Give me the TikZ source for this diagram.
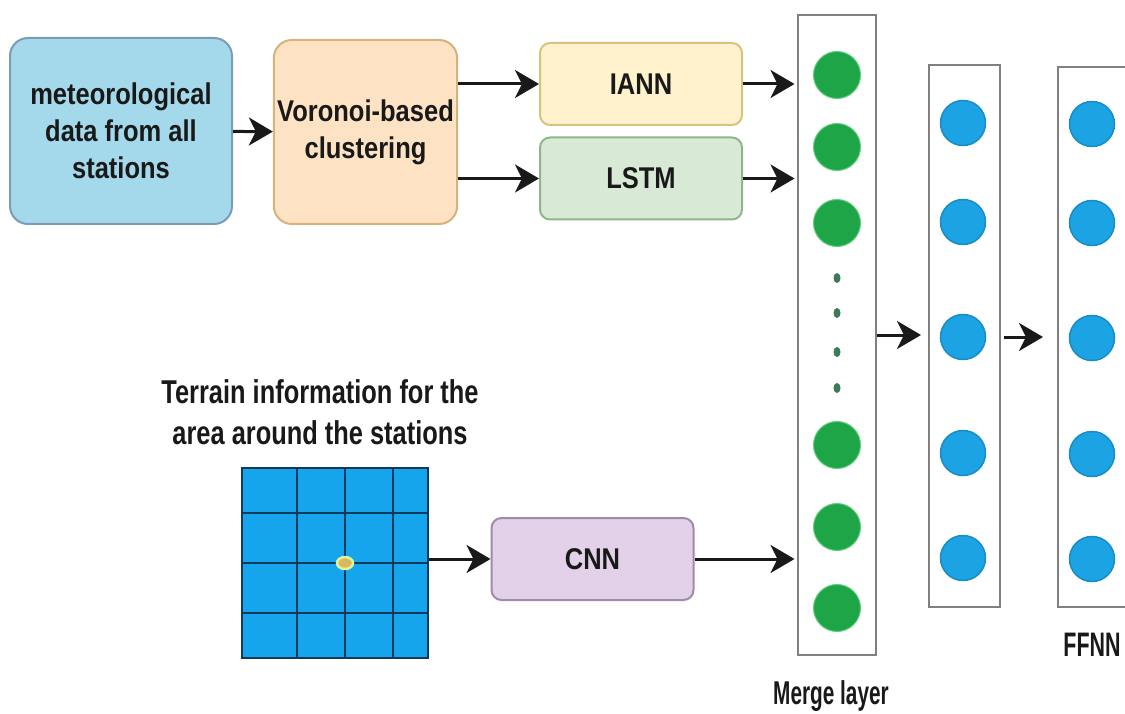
\documentclass[tikz,border=0pt]{standalone}
\usepackage{fontspec}
\setmainfont{Liberation Sans}[FakeStretch=0.85]
\newfontfamily\tallfont{Liberation Sans}[FakeStretch=0.77]
\newfontfamily\condfont{Liberation Sans}[FakeStretch=0.63]
\usetikzlibrary{positioning, arrows.meta}
\definecolor{metblue}{HTML}{A3D9EA}
\definecolor{metedge}{HTML}{7A9CB8}
\definecolor{vorfill}{HTML}{FDE3C4}
\definecolor{voredge}{HTML}{D6B27C}
\definecolor{iannfill}{HTML}{FFF2CC}
\definecolor{iannedge}{HTML}{D6C37E}
\definecolor{lstmfill}{HTML}{D8EAD6}
\definecolor{lstmedge}{HTML}{8FB58C}
\definecolor{cnnfill}{HTML}{E3D1EA}
\definecolor{cnnedge}{HTML}{A08AAA}
\definecolor{mergegreen}{HTML}{1DA548}
\definecolor{glowgreen}{HTML}{5FCF7A}
\definecolor{dotgreen}{HTML}{3A7A55}
\definecolor{ffblue}{HTML}{1CA3E3}
\definecolor{ffedge}{HTML}{1A8CC6}
\definecolor{gridblue}{HTML}{14A5EC}
\definecolor{gridline}{HTML}{0E3A5E}
\definecolor{stnfill}{HTML}{D8B860}
\definecolor{stnedge}{HTML}{E4F29A}

\begin{document}
\begin{tikzpicture}[
    x=1pt, y=-1pt,
    box/.style={rectangle, rounded corners=18pt, line width=2pt, align=center,
                font=\fontsize{30}{37}\selectfont\bfseries, text=black!90},
    model/.style={box, rounded corners=10pt, minimum width=202pt, minimum height=82pt},
    layer/.style={rectangle, draw=black!50, line width=2pt},
    gnode/.style={circle, fill=mergegreen, draw=glowgreen, line width=1pt, minimum size=47pt, inner sep=0pt},
    bnode/.style={circle, fill=ffblue, draw=ffedge, line width=1.5pt, minimum size=45pt, inner sep=0pt},
    arrow/.style={-{Stealth[length=24pt, width=28pt, inset=7pt]}, line width=3pt, black!90},
    lbl/.style={font=\condfont\fontsize{34}{40}\selectfont\bfseries, text=black!90}
  ]
    \useasboundingbox (0,0) rectangle (1125,714);
    \clip (0,0) rectangle (1125,714);

    % input side
    \node[box, fill=metblue, draw=metedge, minimum width=222pt, minimum height=186pt] (met) at (121,131)
        {meteorological\\data from all\\stations};
    \node[box, fill=vorfill, draw=voredge, minimum width=183pt, minimum height=184pt] (vor) at (365.5,132)
        {Voronoi-based\\clustering};
    \node[model, fill=iannfill, draw=iannedge] (iann) at (641,84) {IANN};
    \node[model, fill=lstmfill, draw=lstmedge] (lstm) at (641,178.5) {LSTM};

    % terrain grid
    \node[lbl, font=\tallfont\fontsize{33}{41}\selectfont\bfseries, align=center] (terr) at (320,412)
        {Terrain information for the\\area around the stations};
    \node[rectangle, fill=gridblue, draw=gridline, line width=1.5pt, minimum width=186pt, minimum height=190pt] (grid) at (335,563) {};
    \foreach \gx in {297,345,393}
      \draw[gridline, line width=2.5pt] (\gx,468) -- (\gx,658);
    \foreach \gy in {513,563,613}
      \draw[gridline, line width=2.5pt] (242,\gy) -- (428,\gy);
    \filldraw[fill=stnfill, draw=stnedge, line width=2.5pt] (345,563) ellipse (8pt and 6pt);
    \node[model, fill=cnnfill, draw=cnnedge] (cnn) at (592.5,559) {CNN};

    % layers
    \node[layer, minimum width=78pt, minimum height=640pt] (merge) at (836.5,335) {};
    \node[layer, minimum width=71pt, minimum height=542pt] (hid1) at (964.5,336) {};
    \node[layer, minimum width=100pt, minimum height=540pt] (hid2) at (1108,337) {};
    \foreach \my [count=\i] in {75,147,223,445,527,608}
      \node[gnode] (m\i) at (837,\my) {};
    \foreach \dy in {278,313,352,388}
      \fill[dotgreen] (837,\dy) ellipse (3.5pt and 5pt);
    \foreach \hy [count=\i] in {123,222,337,453,558} {
      \node[bnode] (h\i) at (963,\hy) {};
      \node[bnode] (o\i) at (1092,\hy+1) {};
    }
    \node[lbl, font=\condfont\fontsize{33}{40}\selectfont\bfseries] (mlbl) at (831,696) {Merge layer};
    \node[lbl] (flbl) at (1092,645) {FFNN};

    % connectors
    \draw[arrow] (met) -- (vor);
    \draw[arrow] (vor.east |- iann) -- (iann);
    \draw[arrow] (vor.east |- lstm) -- (lstm);
    \draw[arrow, shorten >=2pt] (iann) -- (iann -| merge.west);
    \draw[arrow, shorten >=2pt] (lstm) -- (lstm -| merge.west);
    \draw[arrow] (grid.east |- cnn) -- (cnn);
    \draw[arrow, shorten >=2pt] (cnn) -- (cnn -| merge.west);
    \draw[arrow, shorten >=7pt] (merge) -- (merge -| hid1.west);
    \draw[arrow, shorten <=3pt, shorten >=14pt] (hid1.east |- h3) -- (h3 -| hid2.west);
\end{tikzpicture}
\end{document}
